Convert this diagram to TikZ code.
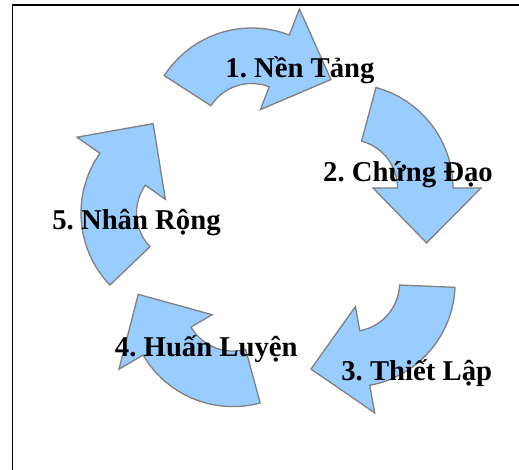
\documentclass[tikz,border=0pt]{standalone}
\usepackage{fontspec}
\setmainfont{Liberation Serif}
\definecolor{arrowblue}{HTML}{99CCFF}
\definecolor{arrowline}{HTML}{808080}

\begin{document}
\frenchspacing
\begin{tikzpicture}[x=1pt,y=-1pt]
   \useasboundingbox (0,0) rectangle (519,470);
   \tikzstyle{cyclearrow}=[fill=arrowblue, draw=arrowline, line width=1.3pt, line join=miter]
   \tikzstyle{steptext}=[anchor=base, inner sep=0pt, font=\fontsize{28.7}{34}\selectfont\bfseries]
   % frame
   \draw[line width=1.8pt] (12.5,470) -- (12.5,5) -- (519,5);
   % centre x / centre y / tail angle / head angle
   \foreach \cx/\cy/\a/\b in {251.7/132/212.8/291.2, 349/188/285/360, 351.1/283/2.4/79.7, 232.9/302.6/74.8/149.7, 185/213.1/136.2/215.1} {
     \begin{scope}[shift={(\cx,\cy)}]
       \draw[cyclearrow] (\a:104) arc[start angle=\a, end angle=\b, radius=104]
          -- (\b:132) -- (\b+35.3:95) -- (\b:24) -- (\b:48.5)
          arc[start angle=\b, end angle=\a, radius=48.5] -- cycle;
     \end{scope}
   }
   \node[steptext] (nentang) at (300,77.3) {1. Nền Tảng};
   \node[steptext] (chungdao) at (408,181.7) {2. Chứng Đạo};
   \node[steptext] (thietlap) at (416.7,380) {3. Thiết Lập};
   \node[steptext] (huanluyen) at (206.3,356.7) {4. Huấn Luyện};
   \node[steptext] (nhanrong) at (136.5,230) {5. Nhân Rộng};
\end{tikzpicture}
\end{document}
